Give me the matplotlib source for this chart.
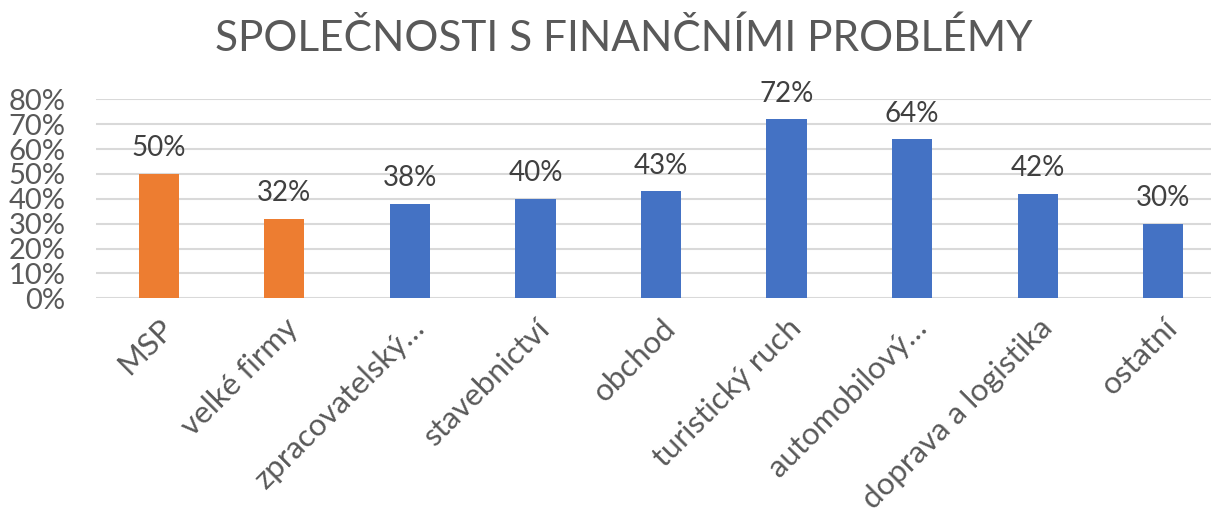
import numpy as np
import matplotlib.pyplot as plt
from matplotlib.ticker import PercentFormatter

categories = ["MSP", "velké firmy", "zpracovatelský…", "stavebnictví", "obchod",
              "turistický ruch", "automobilový…", "doprava a logistika", "ostatní"]
values = [0.50, 0.32, 0.38, 0.40, 0.43, 0.72, 0.64, 0.42, 0.30]
labels = ["50%", "32%", "38%", "40%", "43%", "72%", "64%", "42%", "30%"]
colors = ["#ED7D31", "#ED7D31"] + ["#4472C4"] * 7

plt.rcParams['font.family'] = ['Lato', 'DejaVu Sans']

W, H = 1211, 508
fig = plt.figure(figsize=(W / 100, H / 100), dpi=100)
ax = fig.add_axes([96 / W, 209.7 / H, (1211 - 96) / W, 199 / H])

x = np.arange(len(categories))
ax.bar(x, values, width=0.32, color=colors, zorder=3)

for xi, v, lab in zip(x, values, labels):
    ax.annotate(lab, (xi, v), xytext=(0, 9), textcoords="offset points",
                ha="center", va="bottom", fontsize=20, color="#404040")

ax.set_ylim(0, 0.8)
ax.set_xlim(-0.5, 8.5 - 15 / 125.4)
ax.set_yticks(np.arange(0, 0.81, 0.1))
ax.yaxis.set_major_formatter(PercentFormatter(1.0, decimals=0))
ax.grid(axis="y", color="#d9d9d9", linewidth=1.5, zorder=0)
for s in ax.spines.values():
    s.set_visible(False)
ax.tick_params(axis="y", length=0, labelsize=21, labelcolor="#595959", pad=22)

ax.set_xticks(x)
ax.set_xticklabels(categories, rotation=45, ha="right", rotation_mode="anchor")
ax.tick_params(axis="x", length=0, labelsize=22.5, labelcolor="#595959", pad=11)

fig.text(624 / W, 1 - 38 / H, "SPOLEČNOSTI S FINANČNÍMI PROBLÉMY",
         ha="center", va="center", fontsize=30.5, color="#595959")

fig.savefig("out.png", dpi=100)
